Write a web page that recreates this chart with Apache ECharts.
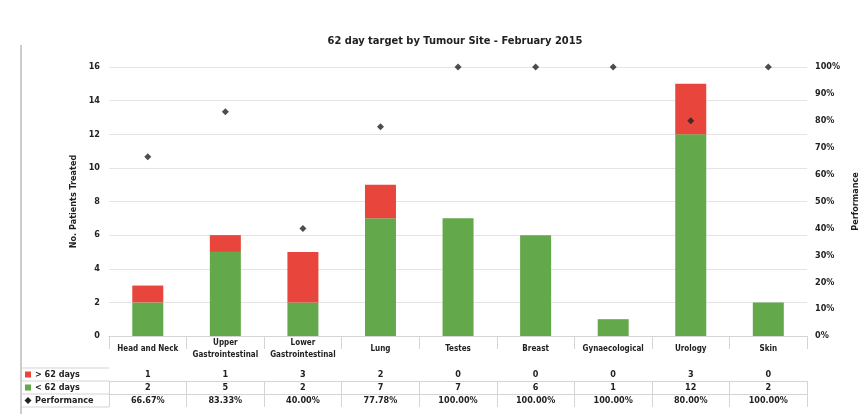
<!DOCTYPE html>
<html>
<head>
<meta charset="utf-8">
<script src="https://cdn.jsdelivr.net/npm/echarts@6/dist/echarts.min.js"></script>
<style>
html,body{margin:0;padding:0;background:#fff;}
#c{width:868px;height:414px;}
</style>
</head>
<body>
<div id="c"></div>
<script>
var categories = ["Head and Neck", "Upper\nGastrointestinal", "Lower\nGastrointestinal", "Lung", "Testes", "Breast", "Gynaecological", "Urology", "Skin"];
var over62 = [1, 1, 3, 2, 0, 0, 0, 3, 0];
var within62 = [2, 5, 2, 7, 7, 6, 1, 12, 2];
var performance = [66.67, 83.33, 40.00, 77.78, 100.00, 100.00, 100.00, 80.00, 100.00];
var leftTicks = [0, 2, 4, 6, 8, 10, 12, 14, 16];
var rightTicks = [0, 10, 20, 30, 40, 50, 60, 70, 80, 90, 100];
var rowNames = ["> 62 days", "< 62 days", "Performance"];

var FONT = "'Liberation Sans Narrow','DejaVu Sans Condensed','Liberation Sans',sans-serif";
var GREEN = '#63a84b', RED = '#e8463c', INK = '#222';
var chart = echarts.init(document.getElementById('c'), null, {renderer: 'canvas'});

var rows = [over62, within62, performance.map(function (v) { return v.toFixed(2) + '%'; })];
var rowTop = 368, rowH = 13;
var tableAxes = rows.map(function (r, i) {
  return {
    type: 'category', data: categories, gridIndex: 0, position: 'bottom',
    offset: rowTop - 336 + i * rowH,
    axisLine: {show: true, lineStyle: {color: '#d4d4d4', width: 1}},
    axisTick: {show: true, length: rowH, inside: false, lineStyle: {color: '#d4d4d4'}},
    axisLabel: {
      margin: rowH / 2, verticalAlign: 'middle', fontFamily: FONT, fontSize: 9,
      fontWeight: 'bold', color: INK, interval: 0,
      formatter: function (v, idx) { return String(r[idx]); }
    }
  };
});

var graphics = [
  {type: 'line', shape: {x1: 21, y1: 45, x2: 21, y2: 414}, style: {stroke: '#9a9a9a', lineWidth: 1}}
];
rowNames.forEach(function (n, i) {
  var y = rowTop + i * rowH + rowH / 2;
  if (i < 2) {
    graphics.push({type: 'rect', shape: {x: 25, y: y - 3, width: 6, height: 6}, style: {fill: i === 0 ? RED : GREEN}});
  } else {
    graphics.push({type: 'polygon', shape: {points: [[28, y - 3.5], [31.5, y], [28, y + 3.5], [24.5, y]]}, style: {fill: INK}});
  }
  graphics.push({type: 'text', x: 35, y: y, style: {text: n, fill: INK, font: 'bold 9px ' + FONT, verticalAlign: 'middle'}});
});
for (var k = 0; k <= 3; k++) {
  graphics.push({type: 'line', shape: {x1: 22, y1: rowTop + k * rowH, x2: 109, y2: rowTop + k * rowH}, style: {stroke: '#d4d4d4', lineWidth: 1}});
}

chart.setOption({
  animation: false,
  backgroundColor: '#fff',
  title: {
    text: '62 day target by Tumour Site - February 2015',
    left: 450, top: 31, textAlign: 'center',
    textStyle: {fontFamily: FONT, fontSize: 11, fontWeight: 'bold', color: INK}
  },
  grid: {left: 109, right: 54, top: 67, bottom: 78, containLabel: false},
  xAxis: [{
    type: 'category', data: categories,
    axisLine: {show: true, lineStyle: {color: '#cfcfcf'}},
    axisTick: {show: false},
    axisLabel: {interval: 0, margin: 13, verticalAlign: 'middle', fontFamily: FONT, fontSize: 8, fontWeight: 'bold', color: INK, lineHeight: 12}
  }].concat(tableAxes),
  yAxis: [{
    type: 'value', min: 0, max: 16, interval: 2,
    name: 'No. Patients Treated', nameLocation: 'middle', nameGap: 30, nameRotate: 90,
    nameTextStyle: {fontFamily: FONT, fontSize: 9, fontWeight: 'bold', color: INK},
    axisLine: {show: false}, axisTick: {show: false},
    axisLabel: {margin: 9, fontFamily: FONT, fontSize: 9, fontWeight: 'bold', color: INK,
      formatter: function (v) { return leftTicks.indexOf(v) >= 0 ? String(v) : ''; }},
    splitLine: {show: true, lineStyle: {color: '#e4e4e4'}}
  }, {
    type: 'value', min: 0, max: 100, interval: 10, position: 'right',
    name: 'Performance', nameLocation: 'middle', nameGap: 38, nameRotate: 90,
    nameTextStyle: {fontFamily: FONT, fontSize: 9, fontWeight: 'bold', color: INK},
    axisLine: {show: false}, axisTick: {show: false},
    axisLabel: {margin: 8, fontFamily: FONT, fontSize: 9, fontWeight: 'bold', color: INK,
      formatter: function (v) { return rightTicks.indexOf(v) >= 0 ? v + '%' : ''; }},
    splitLine: {show: false}
  }],
  series: [{
    name: '< 62 days', type: 'bar', stack: 'p', data: within62, barWidth: 31,
    itemStyle: {color: GREEN}
  }, {
    name: '> 62 days', type: 'bar', stack: 'p', data: over62, barWidth: 31,
    itemStyle: {color: RED}
  }, {
    name: 'Performance', type: 'scatter', yAxisIndex: 1, data: performance,
    symbol: 'diamond', symbolSize: 7, itemStyle: {color: INK}
  }],
  graphic: graphics
});
</script>
</body>
</html>
